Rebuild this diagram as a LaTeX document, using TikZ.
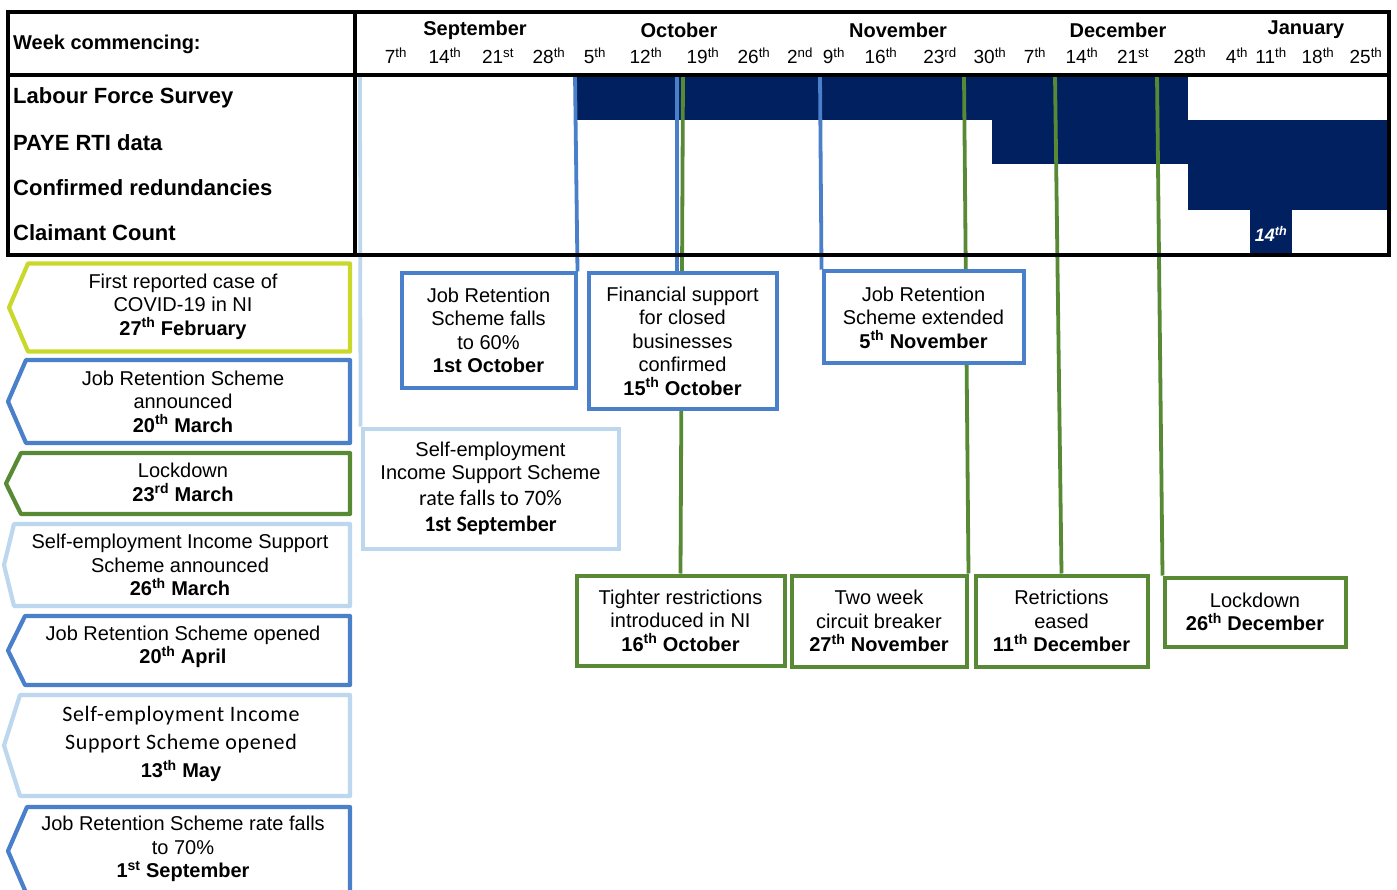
\documentclass[tikz,border=0pt]{standalone}
\usepackage{fontspec}
\usetikzlibrary{backgrounds}
\setmainfont{Liberation Sans}
\newfontfamily\calfont{Carlito}
\newfontfamily\calwide[LetterSpace=3]{Carlito}
\definecolor{navy}{HTML}{002060}
\definecolor{evblue}{HTML}{4A7FC9}
\definecolor{evlight}{HTML}{BDD7EE}
\definecolor{evgreen}{HTML}{588A36}
\definecolor{evyellow}{HTML}{CAD82C}
\tikzset{
  frame/.style={line width=3.8pt, black},
  bar/.style={fill=navy, draw=none},
  evline/.style={line width=3.8pt},
  ebox/.style={draw, line width=4pt, fill=white, align=center, inner sep=0pt,
    font=\fontsize{20}{23.5}\selectfont},
  lbox/.style={line width=4.2pt, fill=white, line join=round},
  ltext/.style={align=center, inner sep=0pt, font=\fontsize{20}{23.5}\selectfont},
  month/.style={inner sep=0pt, font=\bfseries\fontsize{20}{24}\selectfont},
  week/.style={inner sep=0pt, font=\fontsize{19}{22}\selectfont},
  rowlab/.style={anchor=west, inner sep=0pt, font=\bfseries\fontsize{22}{26}\selectfont},
}
\begin{document}
\begin{tikzpicture}[x=1pt,y=-1pt]
\useasboundingbox (0,0) rectangle (1397,890);
\clip (0,0) rectangle (1397,890);

% ---- event boxes (right)
\node[ebox, draw=evblue, minimum width=174pt, minimum height=114pt] (jrs60) at (488.5,330.5)
  {Job Retention\\Scheme falls\\to 60\%\\\textbf{1st October}};
\node[ebox, draw=evblue, minimum width=188pt, minimum height=135pt] (fin) at (682.5,341)
  {Financial support\\for closed\\businesses\\confirmed\\\textbf{15\textsuperscript{th} October}};
\node[ebox, draw=evblue, minimum width=200pt, minimum height=92pt] (jrsext) at (923.5,317.5)
  {Job Retention\\Scheme extended\\\textbf{5\textsuperscript{th} November}};
\node[ebox, draw=evlight, minimum width=256pt, minimum height=120pt] (seiss) at (490.5,488.5)
  {Self-employment\\Income Support Scheme\\[2pt]{\calfont\fontsize{22}{26}\selectfont rate falls to 70\%}\\[3pt]{\calfont\bfseries\fontsize{22}{26}\selectfont 1st September}};
\node[ebox, draw=evgreen, minimum width=208pt, minimum height=90pt] (tight) at (680.5,620.5)
  {Tighter restrictions\\introduced in NI\\\textbf{16\textsuperscript{th} October}};
\node[ebox, draw=evgreen, minimum width=175pt, minimum height=91pt] (twoweek) at (879,621)
  {Two week\\circuit breaker\\\textbf{27\textsuperscript{th} November}};
\node[ebox, draw=evgreen, minimum width=172pt, minimum height=91pt] (eased) at (1061.5,621)
  {Retrictions\\eased\\\textbf{11\textsuperscript{th} December}};
\node[ebox, draw=evgreen, minimum width=181pt, minimum height=69pt] (lock26) at (1255,612)
  {Lockdown\\\textbf{26\textsuperscript{th} December}};

% ---- bars and connectors behind the boxes
\coordinate (t0) at (360,75);
\coordinate (t1) at (575,75);
\coordinate (t2) at (677,75);
\coordinate (t3) at (683,75);
\coordinate (t4) at (820,75);
\coordinate (t5) at (964,75);
\coordinate (t6) at (1055,75);
\coordinate (t7) at (1157,75);
\begin{pgfonlayer}{background}
\fill[white] (0,0) rectangle (1397,890);
\fill[bar] (575,75) rectangle (1188,120);
\fill[bar] (992,120) rectangle (1389,164);
\fill[bar] (1188,120) rectangle (1389,210);
\fill[bar] (1250,210) rectangle (1292,255);
\draw[evline, evlight] (t0) -- (seiss.north west);
\draw[evline, evblue] (t1) -- (jrs60.north east);
\draw[evline, evblue] (t2) -- (t2 |- fin.north);
\draw[evline, evgreen] (t3) -- (tight.north);
\draw[evline, evblue] (t4) -- (jrsext.north west);
\draw[evline, evgreen] (t5) -- (twoweek.north east);
\draw[evline, evgreen] (t6) -- (eased.north);
\draw[evline, evgreen] (t7) -- (lock26.north west);
\end{pgfonlayer}
\node[inner sep=0pt, text=white, font=\bfseries\itshape\fontsize{18}{20}\selectfont] (cc14) at (1271,234) {14\textsuperscript{th}};

% ---- table frame
\draw[frame] (8,12) rectangle (1389,255);
\draw[frame] (8,75) -- (1389,75);
\draw[frame] (355,12) -- (355,255);

% ---- header texts
\node[rowlab, font=\bfseries\fontsize{20}{24}\selectfont] (wc) at (13,44) {Week commencing:};
\node[month] (mSep) at (475,30) {September};
\node[month] (mOct) at (679,30) {October};
\node[month] (mNov) at (898,30) {November};
\node[month] (mDec) at (1118,30) {December};
\node[month] (mJan) at (1306,30) {January};
\foreach \x/\d/\s [count=\i] in {396/7/th,445/14/th,498/21/st,549/28/th,595/5/th,646/12/th,703/19/th,754/26/th,800/2/nd,834/9/th,881/16/th,940/23/rd,990/30/th,1035/7/th,1082/14/th,1133/21/st,1190/28/th,1237/4/th,1271/11/th,1318/18/th,1366/25/th}
  \node[week] (wk\i) at (\x,56) {\d\textsuperscript{\s}};

\node[rowlab] (rLFS) at (13,98) {Labour Force Survey};
\node[rowlab] (rPAYE) at (13,143) {PAYE RTI data};
\node[rowlab] (rCR) at (13,188) {Confirmed redundancies};
\node[rowlab] (rCC) at (13,233) {Claimant Count};

% ---- left arrow boxes
\draw[lbox, draw=evyellow] (350,263.5) -- (28,263.5) -- (9,307.5) -- (28,351.5) -- (350,351.5) -- cycle;
\node[ltext] (l1) at (183,306.5) {First reported case of\\COVID-19 in NI\\\textbf{27\textsuperscript{th} February}};

\draw[lbox, draw=evblue] (350,360) -- (26,360) -- (8,401.5) -- (26,443) -- (350,443) -- cycle;
\node[ltext] (l2) at (183,401.5) {Job Retention Scheme\\announced\\\textbf{20\textsuperscript{th} March}};

\draw[lbox, draw=evgreen] (350,453) -- (21,453) -- (6,483.5) -- (21,514) -- (350,514) -- cycle;
\node[ltext] (l3) at (183,482.5) {Lockdown\\\textbf{23\textsuperscript{rd} March}};

\draw[lbox, draw=evlight] (350,524) -- (14,524) -- (4,565) -- (14,606) -- (350,606) -- cycle;
\node[ltext] (l4) at (180,565) {Self-employment Income Support\\Scheme announced\\\textbf{26\textsuperscript{th} March}};

\draw[lbox, draw=evblue] (350,616) -- (25,616) -- (8,650.5) -- (25,685) -- (350,685) -- cycle;
\node[ltext] (l5) at (183,647) {Job Retention Scheme opened\\\textbf{20\textsuperscript{th} April}};

\draw[lbox, draw=evlight] (350,695) -- (20,695) -- (4,745.5) -- (20,796) -- (350,796) -- cycle;
\node[ltext, font=\calwide\fontsize{22}{28}\selectfont] (l6) at (181,744)
  {Self-employment Income\\Support Scheme opened\\{\fontspec{Liberation Sans}\bfseries\fontsize{20}{24}\selectfont 13\textsuperscript{th} May}};

\draw[lbox, draw=evblue] (350,807) -- (27,807) -- (8,851) -- (27,895) -- (350,895) -- cycle;
\node[ltext] (l7) at (183,849) {Job Retention Scheme rate falls\\to 70\%\\\textbf{1\textsuperscript{st} September}};
\end{tikzpicture}
\end{document}
